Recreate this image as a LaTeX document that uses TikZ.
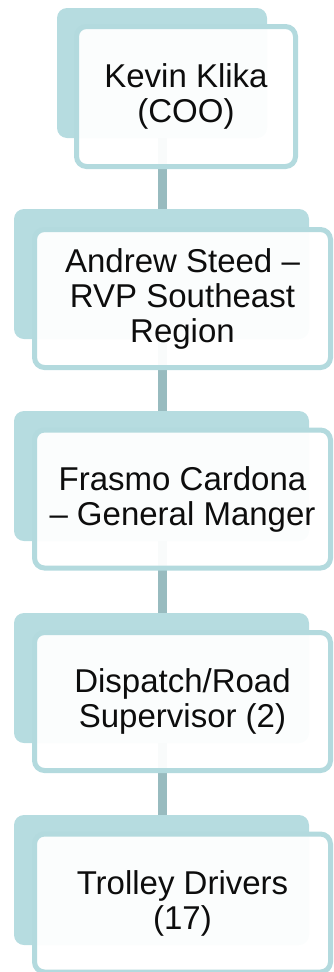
\documentclass[tikz,border=0pt]{standalone}
\usepackage{fontspec}
\setmainfont{Liberation Sans}
\usepackage{xcolor}
\usepackage{tikz}
\usetikzlibrary{positioning, calc}
\definecolor{backteal}{HTML}{B6DCE0}
\definecolor{edgeteal}{HTML}{B3DADE}
\definecolor{linkteal}{HTML}{98BBBF}
\definecolor{ink}{HTML}{0D0D0D}

\begin{document}
\begin{tikzpicture}[x=1pt, y=-1pt,
    backbox/.style={fill=backteal, draw=none, rounded corners=10pt, minimum height=130pt, inner sep=0pt},
    frontbox/.style={fill=white, fill opacity=0.95, text opacity=1, draw=edgeteal, line width=5pt, rounded corners=10pt,
      minimum width=296pt, minimum height=138pt, inner sep=0pt, text=ink, align=center,
      font=\fontsize{33}{35}\selectfont},
    link/.style={linkteal, line width=9pt}]
      \useasboundingbox (0,0) rectangle (333,972);

      % back cards
      \node[backbox, minimum width=210pt] (back1) at (162,73) {};
      \node[backbox, minimum width=295pt] (back2) at (161.5,274) {};
      \node[backbox, minimum width=295pt] (back3) at (161.5,476) {};
      \node[backbox, minimum width=295pt] (back4) at (161.5,678) {};
      \node[backbox, minimum width=295pt] (back5) at (161.5,880) {};

      % connectors
      \draw [link] (back1.south) -- (back1.south |- back2.north);
      \draw [link] (back1.south |- back2.south) -- (back1.south |- back3.north);
      \draw [link] (back1.south |- back3.south) -- (back1.south |- back4.north);
      \draw [link] (back1.south |- back4.south) -- (back1.south |- back5.north);

      % front cards
      \node[frontbox, minimum width=219pt, minimum height=140pt] (coo) at (186,96.5) {Kevin Klika\\(COO)};
      \node[frontbox] (rvp) at (182.5,298.5) {Andrew Steed --\\RVP Southeast\\Region};
      \node[frontbox] (gm) at (182.5,499) {Frasmo Cardona\\-- General Manger};
      \node[frontbox] (dispatch) at (182.5,701.5) {Dispatch/Road\\Supervisor (2)};
      \node[frontbox] (drivers) at (182.5,903) {Trolley Drivers\\(17)};
    \end{tikzpicture}
\end{document}
